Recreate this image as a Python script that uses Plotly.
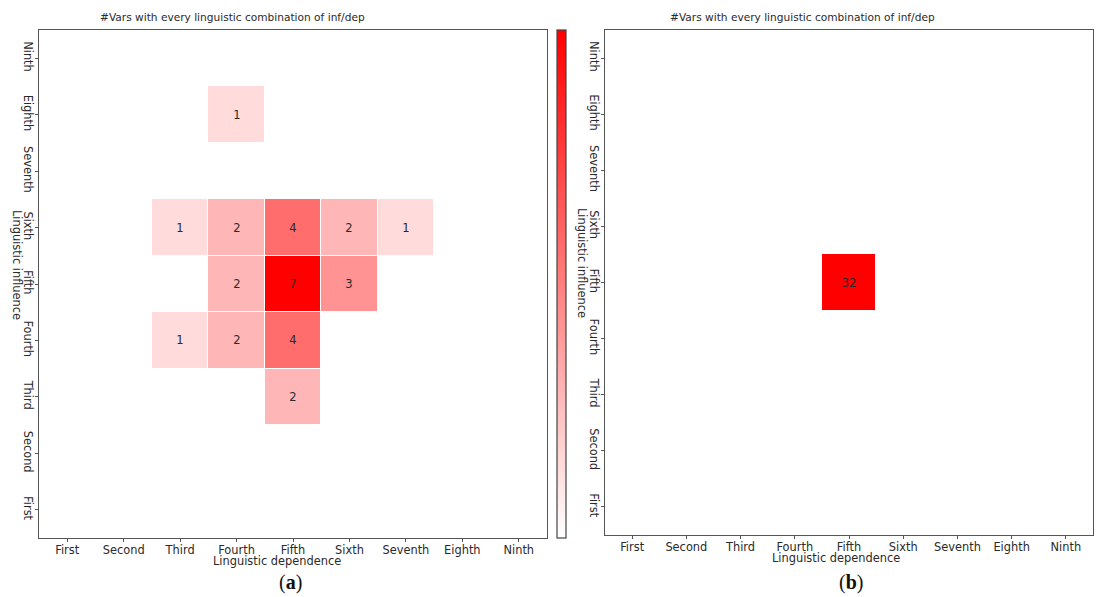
import plotly.graph_objects as go

levels = ["First", "Second", "Third", "Fourth", "Fifth", "Sixth", "Seventh", "Eighth", "Ninth"]

# rows: linguistic influence (First..Ninth), columns: linguistic dependence (First..Ninth)
counts_a = [
    [0, 0, 0, 0, 0, 0, 0, 0, 0],  # First
    [0, 0, 0, 0, 0, 0, 0, 0, 0],  # Second
    [0, 0, 0, 0, 2, 0, 0, 0, 0],  # Third
    [0, 0, 1, 2, 4, 0, 0, 0, 0],  # Fourth
    [0, 0, 0, 2, 7, 3, 0, 0, 0],  # Fifth
    [0, 0, 1, 2, 4, 2, 1, 0, 0],  # Sixth
    [0, 0, 0, 0, 0, 0, 0, 0, 0],  # Seventh
    [0, 0, 0, 1, 0, 0, 0, 0, 0],  # Eighth
    [0, 0, 0, 0, 0, 0, 0, 0, 0],  # Ninth
]
counts_b = [
    [0, 0, 0, 0, 0, 0, 0, 0, 0],
    [0, 0, 0, 0, 0, 0, 0, 0, 0],
    [0, 0, 0, 0, 0, 0, 0, 0, 0],
    [0, 0, 0, 0, 0, 0, 0, 0, 0],
    [0, 0, 0, 0, 32, 0, 0, 0, 0],
    [0, 0, 0, 0, 0, 0, 0, 0, 0],
    [0, 0, 0, 0, 0, 0, 0, 0, 0],
    [0, 0, 0, 0, 0, 0, 0, 0, 0],
    [0, 0, 0, 0, 0, 0, 0, 0, 0],
]

title_text = "#Vars with every linguistic combination of inf/dep"
x_title = "Linguistic dependence"
y_title = "Linguistic influence"

W, H = 1101, 597
def px(x):
    return x / W
def py(y):
    return 1 - y / H

def zmask(m):
    return [[v if v else None for v in row] for row in m]
def tmask(m):
    return [[str(v) if v else "" for v in row] for row in m]

scale = [[0, "#ffffff"], [1, "#ff0000"]]
FONT = "DejaVu Sans"
TXT = "#2a2a2a"

fig = go.Figure()
fig.add_trace(go.Heatmap(
    x=levels, y=levels, z=zmask(counts_a), text=tmask(counts_a), texttemplate="%{text}",
    textfont=dict(family=FONT, size=11.5, color=TXT),
    colorscale=scale, zmin=0, zmax=7, xgap=1, ygap=1,
    xaxis="x", yaxis="y",
    colorbar=dict(x=px(557), xanchor="left", xpad=0, ypad=0,
                  thickness=9, thicknessmode="pixels",
                  len=508, lenmode="pixels", y=py(284), yanchor="middle",
                  outlinewidth=1.2, outlinecolor="#444", showticklabels=False, ticks=""),
    hoverinfo="skip",
))
fig.add_trace(go.Heatmap(
    x=levels, y=levels, z=zmask(counts_b), text=tmask(counts_b), texttemplate="%{text}",
    textfont=dict(family=FONT, size=11.5, color=TXT),
    colorscale=scale, zmin=0, zmax=32, xgap=1, ygap=1,
    xaxis="x2", yaxis="y2", showscale=False, hoverinfo="skip",
))

axis_common = dict(
    type="category", categoryorder="array", categoryarray=levels,
    showline=True, mirror=True, linecolor="#555", linewidth=1.3,
    ticks="outside", ticklen=3, tickcolor="#555", tickwidth=1,
    showgrid=False, zeroline=False,
    tickfont=dict(family=FONT, size=11.4, color=TXT),
)

fig.update_layout(
    width=W, height=H,
    margin=dict(l=0, r=0, t=0, b=0),
    paper_bgcolor="white", plot_bgcolor="white",
    xaxis=dict(domain=[px(39), px(547)], anchor="y", ticklabelstandoff=-2, **axis_common),
    yaxis=dict(domain=[py(538), py(30)], anchor="x", tickangle=90, ticklabelstandoff=-3, **axis_common),
    xaxis2=dict(domain=[px(605), px(1093)], anchor="y2", ticklabelstandoff=-2, **axis_common),
    yaxis2=dict(domain=[py(535), py(30)], anchor="x2", tickangle=90, ticklabelstandoff=-3, **axis_common),
)

ann = []
for cx, label in [(232, title_text), (802, title_text)]:
    ann.append(dict(x=px(cx), y=py(17), xref="paper", yref="paper", text=label,
                    showarrow=False, xanchor="center", yanchor="middle",
                    font=dict(family=FONT, size=10.6, color=TXT)))
for cx, cy in [(277, 561), (836, 558)]:
    ann.append(dict(x=px(cx), y=py(cy), xref="paper", yref="paper", text=x_title,
                    showarrow=False, xanchor="center", yanchor="middle",
                    font=dict(family=FONT, size=11.4, color=TXT)))
for cx, cy in [(17, 265), (582, 263)]:
    ann.append(dict(x=px(cx), y=py(cy), xref="paper", yref="paper", text=y_title,
                    showarrow=False, xanchor="center", yanchor="middle", textangle=90,
                    font=dict(family=FONT, size=11.4, color=TXT)))
for cx, lab in [(290, "(<b>a</b>)"), (851, "(<b>b</b>)")]:
    ann.append(dict(x=px(cx), y=py(582), xref="paper", yref="paper", text=lab,
                    showarrow=False, xanchor="center", yanchor="middle",
                    font=dict(family="Liberation Serif", size=20, color="#111")))
fig.update_layout(annotations=ann)

fig.write_html("out.html")
